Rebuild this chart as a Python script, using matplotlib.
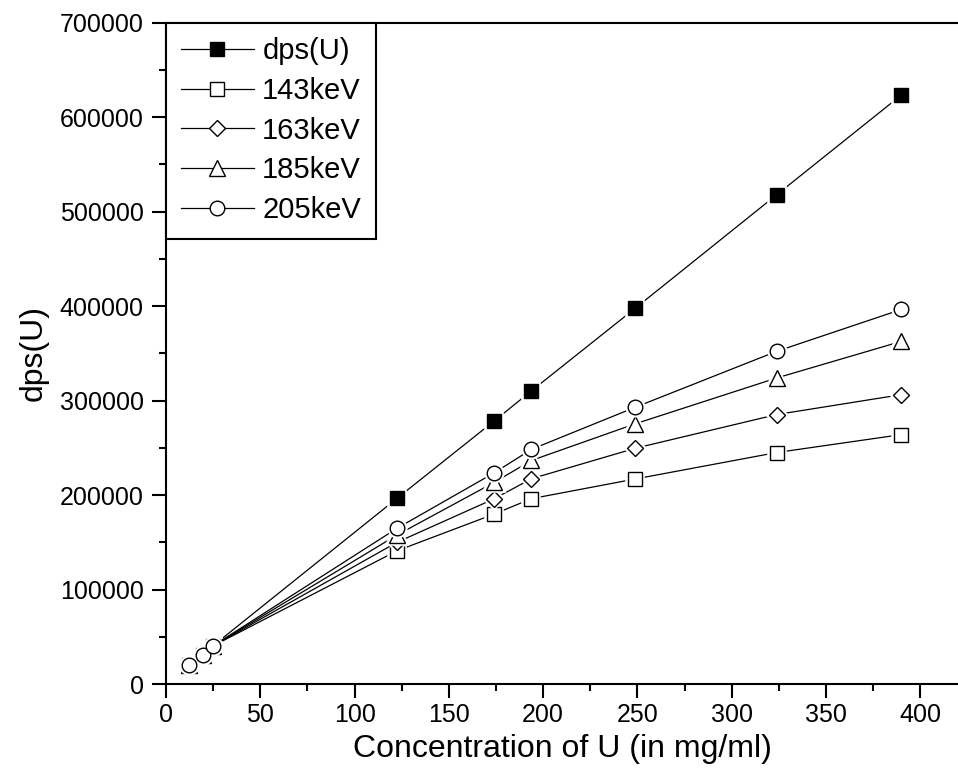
import matplotlib
matplotlib.use("Agg")
import matplotlib.pyplot as plt
from matplotlib.lines import Line2D
from matplotlib.ticker import MultipleLocator

plt.rcParams.update({
    "font.family": ["Liberation Sans", "DejaVu Sans"],
    "axes.linewidth": 1.5,
})

# concentration of U (mg/ml)
conc = [12.2, 19.4, 24.8, 122.5, 174.2, 193.8, 248.8, 323.8, 390.0]

dps_u = [19800, 30700, 40200, 196500, 278700, 310300, 397700, 517800, 623500]
kev143 = [19800, 30700, 40200, 141000, 180000, 196200, 217000, 245000, 264000]
kev163 = [19800, 30700, 40200, 150000, 196200, 217300, 249500, 285200, 306300]
kev185 = [19800, 30700, 40200, 157700, 213600, 236600, 275400, 323900, 362700]
kev205 = [19800, 30700, 40200, 164800, 223700, 248400, 292900, 352100, 396500]

labels = ["dps(U)", "143keV", "163keV", "185keV", "205keV"]
series = [dps_u, kev143, kev163, kev185, kev205]

# marker, size, fill
styles = [
    ("s", 9.5, "black"),
    ("s", 9.5, "white"),
    ("D", 8.5, "white"),
    ("^", 11, "white"),
    ("o", 10.5, "white"),
]

fig = plt.figure(figsize=(9.58, 7.68), dpi=100)
ax = fig.add_axes([166 / 958, 84 / 768, (958 - 166) / 958, 661.3 / 768])

handles = []
for i, (ys, lab, (mk, ms, fc)) in enumerate(zip(series, labels, styles)):
    z = 2 + 3 * i
    ax.plot(conc, ys, color="black", lw=0.9, zorder=z)
    # white halo so the line stops short of the marker
    ax.plot(conc, ys, ls="none", marker=mk, ms=ms, mfc="white",
            mec="white", mew=4, zorder=z + 1)
    ax.plot(conc, ys, ls="none", marker=mk, ms=ms, mfc=fc,
            mec="black", mew=1.0, zorder=z + 2)
    handles.append(Line2D([], [], color="black", lw=0.9, marker=mk, ms=ms,
                          mfc=fc, mec="black", mew=1.0))

ax.set_xlim(0, 420)
ax.set_ylim(0, 700000)
ax.set_xticks(range(0, 401, 50))
ax.set_yticks(range(0, 700001, 100000))
ax.xaxis.set_minor_locator(MultipleLocator(25))
ax.yaxis.set_minor_locator(MultipleLocator(50000))
ax.tick_params(which="major", direction="out", length=10, width=1.5,
               labelsize=18)
ax.tick_params(axis="y", which="major", pad=6)
ax.tick_params(which="minor", direction="out", length=5, width=1.5)
ax.spines["right"].set_visible(False)

ax.set_xlabel("Concentration of U (in mg/ml)", fontsize=23, labelpad=5)
ax.set_ylabel("dps(U)", fontsize=23, labelpad=8)

leg = ax.legend(handles, labels, loc="upper left", borderaxespad=0,
                fontsize=21, frameon=True, fancybox=False, framealpha=1,
                edgecolor="black", handlelength=2.5, handletextpad=0.3,
                labelspacing=0.4, borderpad=0.5)
leg.get_frame().set_linewidth(1.5)
leg.set_zorder(20)

fig.savefig("out.png", dpi=100)
